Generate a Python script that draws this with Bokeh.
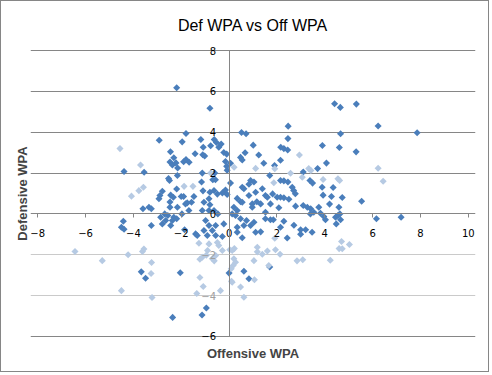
import numpy as np
from bokeh.plotting import figure
from bokeh.models import LinearAxis, FixedTicker, Grid, Title, Range1d
from bokeh.embed import file_html
from bokeh.resources import INLINE

# ---- data ----
x_ticks = [-8, -6, -4, -2, 0, 2, 4, 6, 8, 10]
y_ticks_dark = [-6, 0, 2, 4, 6, 8]
y_ticks_faded = [-4, -2]

off_wpa_dark = [
    -2.19, -0.80, 4.41, 4.65, 5.32, 6.23, 7.86,
    2.47, 0.52, 0.71, 4.66, 2.46, 1.01, 3.90, 4.61, 5.31, 2.16, 2.29, 2.45, 0.67, 0.48, 0.55,
    1.24, 1.45, 2.15, 1.90, 4.07, 3.70, 3.10, 0.06, -0.08,
    -2.92, -1.80, -1.96, -1.18, -1.08, -0.77, -0.62, -0.53, -0.43, -0.33, -0.22, -0.10, -1.42,
    -1.10, -1.02, -2.45, -2.31, -2.47, -2.37, -2.22, -2.15, -1.90, -1.80, -1.67, -4.39, -3.55,
    -0.15, -0.10, -0.60, -1.12,
    1.70, 2.15, 2.29, 2.46, 2.64, 2.70, 2.77, 3.38, 3.49, 3.89, 4.35, 3.93, 4.28, 4.73, 5.54,
    4.20, 4.59, 1.04, 0.90, 0.62, 1.39, 1.52, 1.11, 0.83, 0.34, 2.01, 2.15, 2.50, 0.06, 0.55,
    0.83, 0.48, 0.97, 1.16, 1.73, 2.78, 3.10, 3.27, 3.41, 0.20, 0.55, 0.97, 1.32, 1.52, 2.08,
    3.75, 3.54, 3.40, 3.82, 4.63, 1.60, 1.82, 2.29, 0.13, 0.34,
    -2.16, -2.53, -2.49, -1.15, -0.68, -0.57, -2.19, -2.79, -2.89, -2.93, -2.44, -2.33, -2.00,
    -1.90, -1.47, -1.09, -0.80, -0.63, -0.49, -0.28, -0.15, -0.08, -0.84, -0.80, -1.75, -1.57,
    -1.05, -0.84, -0.63, -3.60, -3.35, -3.25, -2.47, -2.47, -2.16, -1.82, -1.68, -2.69, -1.97,
    -1.12, -0.47,
    -4.42, -4.50, -4.39, -3.25, -2.86, -2.79, -2.65, -2.56, -2.44, -2.37, -2.31, -2.19, -1.86,
    -1.40, -1.33, -0.98, -0.84, -0.56, -1.05, -0.70, -0.22, -0.28, -0.91, -0.56, -3.67, -3.49,
    -2.04, -0.95, -1.13, -2.36, 0.00,
    0.27, 0.48, 0.55, 0.34, 0.73, 0.90, 0.62, 1.04, 1.11, 1.32, 1.52, 1.73, 1.85, 2.15, 2.29,
    2.43, 2.71, 2.99, 3.20, 2.99, 3.47, 3.96, 4.03, 4.45, 4.55, 4.66, 4.48, 6.16, 7.19, 0.34,
    0.62, 0.83, 1.70,
]
def_wpa_dark = [
    6.18, 5.18, 5.40, 5.22, 5.38, 4.31, 3.98,
    4.30, 3.99, 3.93, 3.93, 3.69, 3.37, 3.35, 3.25, 3.04, 3.27, 3.20, 3.13, 3.00, 2.77, 2.64,
    2.89, 2.48, 2.63, 2.37, 2.49, 2.22, 2.05, 2.48, 2.14,
    3.61, 3.94, 3.53, 3.65, 3.27, 3.34, 3.64, 3.50, 3.27, 3.42, 3.01, 2.93, 2.95,
    2.90, 2.84, 3.05, 2.75, 2.54, 2.40, 2.50, 2.25, 2.56, 2.66, 2.53, 2.08, 2.04,
    2.57, 2.33, 2.00, 2.00,
    1.88, 1.64, 1.62, 1.56, 1.31, 1.15, 0.99, 1.64, 1.51, 1.31, 1.29, 0.92, 0.85, 0.80, 0.62,
    0.48, 0.33, 1.56, 1.64, 1.23, 1.23, 0.90, 1.06, 0.90, 0.76, 0.82, 0.82, 0.72, 1.51, 1.31,
    1.45, 0.60, 0.49, 0.60, 0.49, 0.38, 0.41, 0.33, 0.25, 0.33, 0.57, 0.33, 0.49, 0.08, 0.30,
    0.33, 0.08, 0.00, 0.03, 0.00, 0.82, 0.98, 0.79, 0.00, 0.17,
    1.88, 1.73, 1.64, 1.56, 1.67, 1.67, 1.22, 1.11, 0.90, 0.74, 0.92, 0.82, 0.85,
    0.85, 0.85, 1.13, 1.06, 1.15, 0.97, 1.03, 1.17, 0.95, 0.74, 0.45, 0.54, 0.57,
    0.57, 0.17, 0.17, 0.25, 0.33, 0.25, 0.33, 0.58, 0.33, 0.49, 0.17, 0.00, 0.00,
    0.17, 0.00,
    -0.36, -0.65, -0.75, -0.57, -0.16, -0.49, -0.32, -0.08, -0.57, -0.32, -0.16, -0.24, -0.78,
    -0.98, -1.06, -0.32, -0.57, -0.57, -0.81, -0.81, -0.49, -1.11, -1.06, -1.06, -2.84, -3.15,
    -2.88, -4.61, -4.95, -5.07, -2.90,
    -0.08, -0.24, -1.17, -0.65, -0.32, -0.57, -0.57, -0.41, -0.90, -0.88, -0.24, -0.29, -0.29,
    -0.65, -0.36, -1.18, -0.56, -1.00, -0.78, -0.78, -0.90, -0.13, -0.29, -0.16, -0.08, -0.29,
    -0.49, -0.24, -0.16, -0.90, -2.81, -3.18, -2.60,
]

off_wpa_light = [
    -4.56, -3.70, -4.08, -3.77, -3.58, -1.88, -1.51, -0.77, 0.21, 2.94, 3.33, 3.42, 1.11, 1.91,
    6.23, 6.44, 2.57, 3.06, 3.93, 4.55, 4.62, 1.87,
    -6.44, -5.30, -4.22, -3.62, -3.56, -3.24, -4.50, -3.22, -3.26, -1.22, -1.08, -1.35, -0.36,
    0.10, 0.62, 0.48, 1.06, -0.84, -0.90, -1.12, -0.70, -0.56, -0.43, -0.49, -0.28, 0.03, 0.13,
    0.20, 0.27, 0.17, 0.09, 0.13, 1.18, 1.39, 1.60, 1.94, 2.13, 1.04, 1.18, 1.66, 2.84, 3.08,
    4.23, 4.70, 5.03, 4.60, 4.73, 1.91, -1.26, -1.22, -0.95, -0.62, 0.22,
]
def_wpa_light = [
    3.20, 2.40, 0.87, 1.14, 1.31, 1.35, 1.35, 2.00, 2.29, 2.89, 2.22, 2.13, 2.23, 2.21,
    2.24, 1.60, 1.99, 1.80, 1.69, 1.72, 1.64, 1.53,
    -1.84, -2.29, -2.00, -1.84, -1.72, -2.38, -3.76, -4.10, -2.92, -3.12, -3.56, -3.90, -3.76,
    -3.30, -4.08, -3.58, -3.23, -1.47, -1.79, -2.12, -2.20, -2.04, -1.55, -1.40, -1.79, -1.76, -1.79,
    -2.20, -2.37, -2.53, -2.69, -3.35, -1.63, -1.98, -1.82, -1.76, -1.98, -2.29, -1.86, -2.53, -2.30, -2.25,
    -2.27, -1.35, -1.50, -1.70, -1.71, -1.19, -1.44, -2.22, -2.02, -2.30, -1.70,
]

GRAY = "#868686"
X_BOUNDS = (-8, 10)
Y_BOUNDS = (-6, 8)

# the frame is a little larger than the data box so that edge tick labels are not clipped
p = figure(width=489, height=372, x_range=Range1d(-8.3, 10.3), y_range=Range1d(-6.35, 8.35),
           x_axis_location=None, y_axis_location=None,
           output_backend="svg", toolbar_location=None,
           min_border_left=29, min_border_right=15, min_border_top=42, min_border_bottom=30)
p.styles = {"border": "1px solid #868686"}
p.grid.visible = False
p.outline_line_color = None
p.background_fill_color = "white"
p.border_fill_color = "white"

p.title.text = "Def WPA vs Off WPA"
p.title.align = "center"
p.title.text_font = "Liberation Sans"
p.title.text_font_size = "16px"
p.title.text_font_style = "normal"
p.title.text_color = "black"
p.title.standoff = 19

p.add_layout(Grid(dimension=1, ticker=FixedTicker(ticks=y_ticks_dark), bounds=X_BOUNDS,
                  grid_line_color=GRAY, grid_line_width=1), "center")
p.add_layout(Grid(dimension=1, ticker=FixedTicker(ticks=y_ticks_faded), bounds=X_BOUNDS,
                  grid_line_color="#CACACA", grid_line_width=1), "center")

def style_axis(ax):
    ax.major_tick_in = 0
    ax.major_tick_out = 4
    ax.minor_tick_line_color = None
    ax.major_label_text_font = "DejaVu Sans"
    ax.major_label_text_font_size = "10px"

xaxis = LinearAxis(fixed_location=0, ticker=FixedTicker(ticks=x_ticks), bounds=X_BOUNDS)
style_axis(xaxis)
xaxis.axis_line_color = GRAY
xaxis.major_tick_line_color = GRAY
xaxis.major_label_standoff = 11
xaxis.major_label_text_color = "black"
p.add_layout(xaxis, "below")

yaxis = LinearAxis(fixed_location=0, ticker=FixedTicker(ticks=y_ticks_dark), bounds=Y_BOUNDS)
style_axis(yaxis)
yaxis.axis_line_color = GRAY
yaxis.major_tick_line_color = GRAY
yaxis.major_label_standoff = 9
yaxis.major_label_text_color = "black"
p.add_layout(yaxis, "left")

yaxis2 = LinearAxis(fixed_location=0, ticker=FixedTicker(ticks=y_ticks_faded), bounds=Y_BOUNDS)
style_axis(yaxis2)
yaxis2.axis_line_color = None
yaxis2.major_tick_line_color = "#CACACA"
yaxis2.major_label_standoff = 9
yaxis2.major_label_text_color = "#A0A0A0"
p.add_layout(yaxis2, "left")

p.add_layout(Title(text="Offensive WPA", align="center", text_font="Liberation Sans",
                   text_font_size="13px", text_font_style="bold", standoff=0), "below")
p.add_layout(Title(text="Defensive WPA", align="center", text_font="Liberation Sans",
                   text_font_size="13px", text_font_style="bold", standoff=1), "left")

p.scatter(off_wpa_dark, def_wpa_dark, marker="square", angle=np.pi / 4, size=5,
          fill_color="#4A7EBB", line_color=None)
p.scatter(off_wpa_light, def_wpa_light, marker="square", angle=np.pi / 4, size=5,
          fill_color="#B6CAE3", line_color=None)

open("out.html", "w").write(file_html(p, INLINE))
